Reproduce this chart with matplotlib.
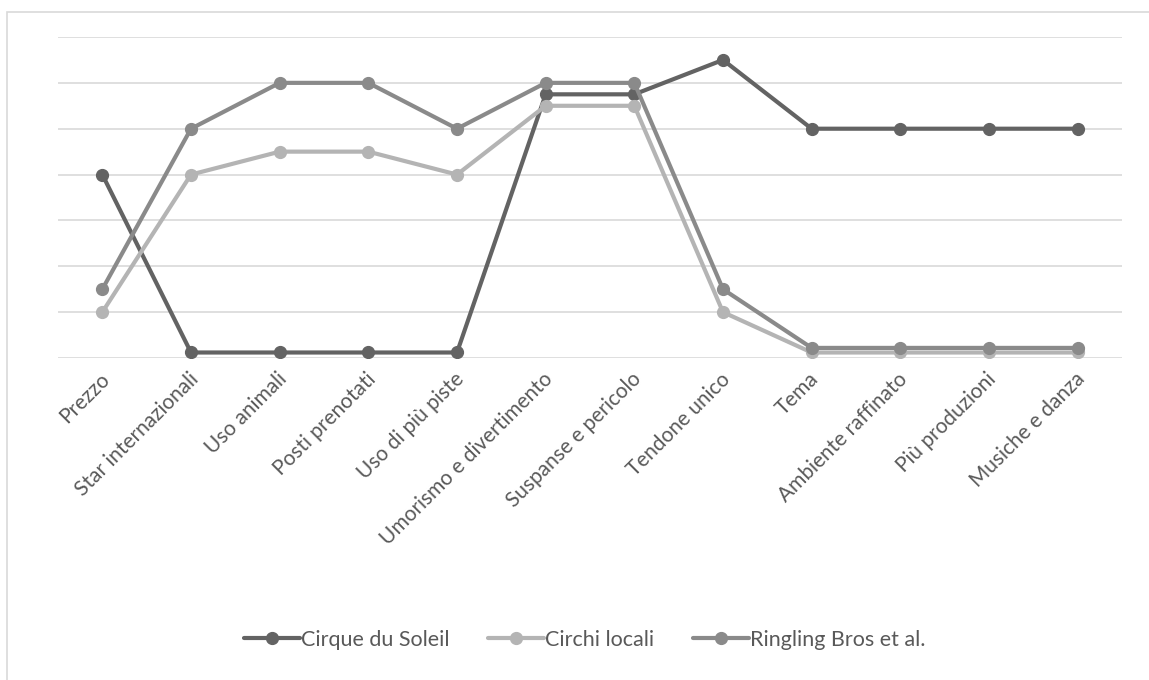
import matplotlib as mpl
mpl.use('Agg')
import matplotlib.pyplot as plt
from matplotlib.patches import Rectangle
from matplotlib.transforms import ScaledTranslation

categories = ["Prezzo", "Star internazionali", "Uso animali", "Posti prenotati",
              "Uso di più piste", "Umorismo e divertimento", "Suspanse e pericolo",
              "Tendone unico", "Tema", "Ambiente raffinato", "Più produzioni",
              "Musiche e danza"]

cirque = [4.0, 0.12, 0.12, 0.12, 0.12, 5.75, 5.75, 6.5, 5.0, 5.0, 5.0, 5.0]
locali = [1.0, 4.0, 4.5, 4.5, 4.0, 5.5, 5.5, 1.0, 0.12, 0.12, 0.12, 0.12]
ringling = [1.5, 5.0, 6.0, 6.0, 5.0, 6.0, 6.0, 1.5, 0.22, 0.22, 0.22, 0.22]

series = [("Cirque du Soleil", cirque, "#636363"),
          ("Circhi locali", locali, "#b4b4b4"),
          ("Ringling Bros et al.", ringling, "#8a8a8a")]

plt.rcParams['font.family'] = ['Lato', 'DejaVu Sans']
text_col = "#595959"

fig = plt.figure(figsize=(11.49, 6.8), dpi=100)
ax = fig.add_axes([58/1149, 1-358/680, (1122-58)/1149, (358-37)/680])

# chart border
fig.patches.append(Rectangle((7/1149, -0.05), 1.1, 1-12/680+0.05,
                             transform=fig.transFigure, fill=False,
                             edgecolor="#d9d9d9", linewidth=1.2))

x = list(range(len(categories)))
for name, vals, col in series:
    ax.plot(x, vals, color=col, linewidth=3, marker="o", markersize=8.5,
            label=name, solid_capstyle="round", zorder=3)

ax.set_xlim(-0.5, len(categories) - 0.5)
ax.set_ylim(0, 7)
ax.set_yticks(range(0, 8))
ax.set_yticklabels([])
ax.tick_params(axis="y", length=0)
ax.tick_params(axis="x", length=0, pad=13)
ax.grid(axis="y", color="#d9d9d9", linewidth=1.2, zorder=0)
for s in ax.spines.values():
    s.set_visible(False)
ax.set_xticks(x)
ax.set_xticklabels(categories, rotation=45, ha="right", va="center",
                   rotation_mode="anchor", fontsize=15, color=text_col)
shift = ScaledTranslation(4/100, 0, fig.dpi_scale_trans)
for lab in ax.get_xticklabels():
    lab.set_transform(lab.get_transform() + shift)

leg = fig.legend(loc="center", bbox_to_anchor=(585/1149, 1-640/680), ncol=3,
                 frameon=False, fontsize=15.5, handlelength=2.6, handletextpad=0.05,
                 columnspacing=1.8)
for t in leg.get_texts():
    t.set_color(text_col)

plt.savefig("out.png", dpi=100)
